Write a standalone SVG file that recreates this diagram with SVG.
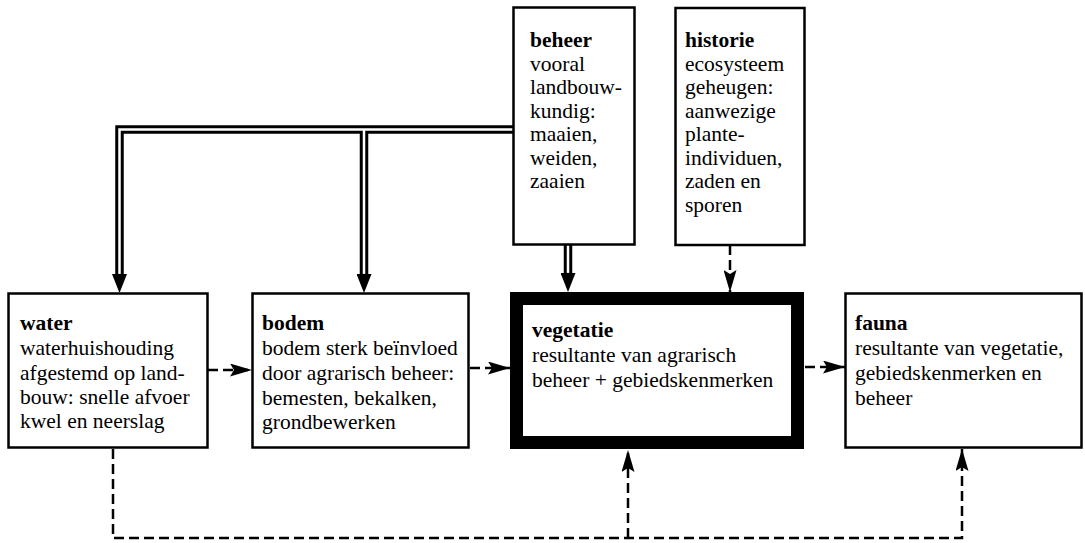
<svg xmlns="http://www.w3.org/2000/svg" width="1085" height="543" viewBox="0 0 1085 543">
<style>
.box{fill:#fff;stroke:#000;stroke-width:2.5}
.thick{fill:#fff;stroke:#000;stroke-width:13}
text{font-family:"Liberation Serif","Times New Roman",serif;font-size:21.5px;fill:#000}
.h{font-weight:bold}
.dbl{fill:none;stroke:#000;stroke-width:8.5;stroke-linejoin:miter}
.dblw{fill:none;stroke:#fff;stroke-width:2.5}
.dash{fill:none;stroke:#000;stroke-width:2.5;stroke-dasharray:10 5}
</style>
<defs>
<marker id="arr" viewBox="0 0 22 13" markerWidth="22" markerHeight="13" refX="22" refY="6.5" orient="auto" markerUnits="userSpaceOnUse">
<path d="M0,0 L22,6.5 L0,13 L4,6.5 z" fill="#000"/>
</marker>
<marker id="arrD" viewBox="0 0 19 15" markerWidth="19" markerHeight="15" refX="0" refY="7.5" orient="auto" markerUnits="userSpaceOnUse">
<path d="M0,0 L19,7.5 L0,15 z" fill="#000"/>
</marker>
</defs>

<g id="connectors">
<path class="dbl" d="M119.5,274 V129.5 H513"/>
<path class="dbl" d="M364,129.5 V274"/>
<path class="dbl" d="M568,245 V273"/>
<path class="dblw" d="M119.5,274 V129.5 H513"/>
<path class="dblw" d="M364,129.5 V274"/>
<path class="dblw" d="M568,245 V273"/>
<path d="M119.5,273.9 V274" stroke="#000" stroke-width="8.5" marker-end="url(#arrD)"/>
<path d="M364,273.9 V274" stroke="#000" stroke-width="8.5" marker-end="url(#arrD)"/>
<path d="M568,272.9 V273" stroke="#000" stroke-width="8.5" marker-end="url(#arrD)"/>
<path class="dash" d="M730,245 V292" marker-end="url(#arr)"/>
<path class="dash" d="M208,370 H252" marker-end="url(#arr)"/>
<path class="dash" d="M470,368 H510" marker-end="url(#arr)"/>
<path class="dash" d="M805,367 H845" marker-end="url(#arr)"/>
<path class="dash" d="M113,449 V538 H962 V449" marker-end="url(#arr)"/>
<path class="dash" d="M628,538 V450" marker-end="url(#arr)"/>
</g>

<g id="water">
<rect class="box" x="8.5" y="293.5" width="199" height="154"/>
<text x="20" y="330" class="h">water</text>
<text x="20" y="355">waterhuishouding</text>
<text x="20" y="380">afgestemd op land-</text>
<text x="20" y="404">bouw: snelle afvoer</text>
<text x="20" y="428">kwel en neerslag</text>
</g>

<g id="bodem">
<rect class="box" x="252.5" y="293.5" width="216" height="154"/>
<text x="262" y="330" class="h">bodem</text>
<text x="262" y="355">bodem sterk beïnvloed</text>
<text x="262" y="380">door agrarisch beheer:</text>
<text x="262" y="405">bemesten, bekalken,</text>
<text x="262" y="429">grondbewerken</text>
</g>

<g id="vegetatie">
<rect class="thick" x="516.5" y="298.5" width="281" height="144"/>
<text x="532" y="337" class="h">vegetatie</text>
<text x="532" y="362">resultante van agrarisch</text>
<text x="532" y="387">beheer + gebiedskenmerken</text>
</g>

<g id="fauna">
<rect class="box" x="845.5" y="293.5" width="236" height="154"/>
<text x="855" y="330" class="h">fauna</text>
<text x="855" y="355">resultante van vegetatie,</text>
<text x="855" y="380">gebiedskenmerken en</text>
<text x="855" y="405">beheer</text>
</g>

<g id="beheer">
<rect class="box" x="513.5" y="7.5" width="121" height="237"/>
<text x="530" y="47" class="h">beheer</text>
<text x="530" y="70.5">vooral</text>
<text x="530" y="94">landbouw-</text>
<text x="530" y="117.5">kundig:</text>
<text x="530" y="141">maaien,</text>
<text x="530" y="164.5">weiden,</text>
<text x="530" y="188">zaaien</text>
</g>

<g id="historie">
<rect class="box" x="675.5" y="8" width="129" height="237"/>
<text x="685" y="47" class="h">historie</text>
<text x="685" y="70.5">ecosysteem</text>
<text x="685" y="94">geheugen:</text>
<text x="685" y="117.5">aanwezige</text>
<text x="685" y="141">plante-</text>
<text x="685" y="164.5">individuen,</text>
<text x="685" y="188">zaden en</text>
<text x="685" y="211.5">sporen</text>
</g>
</svg>
